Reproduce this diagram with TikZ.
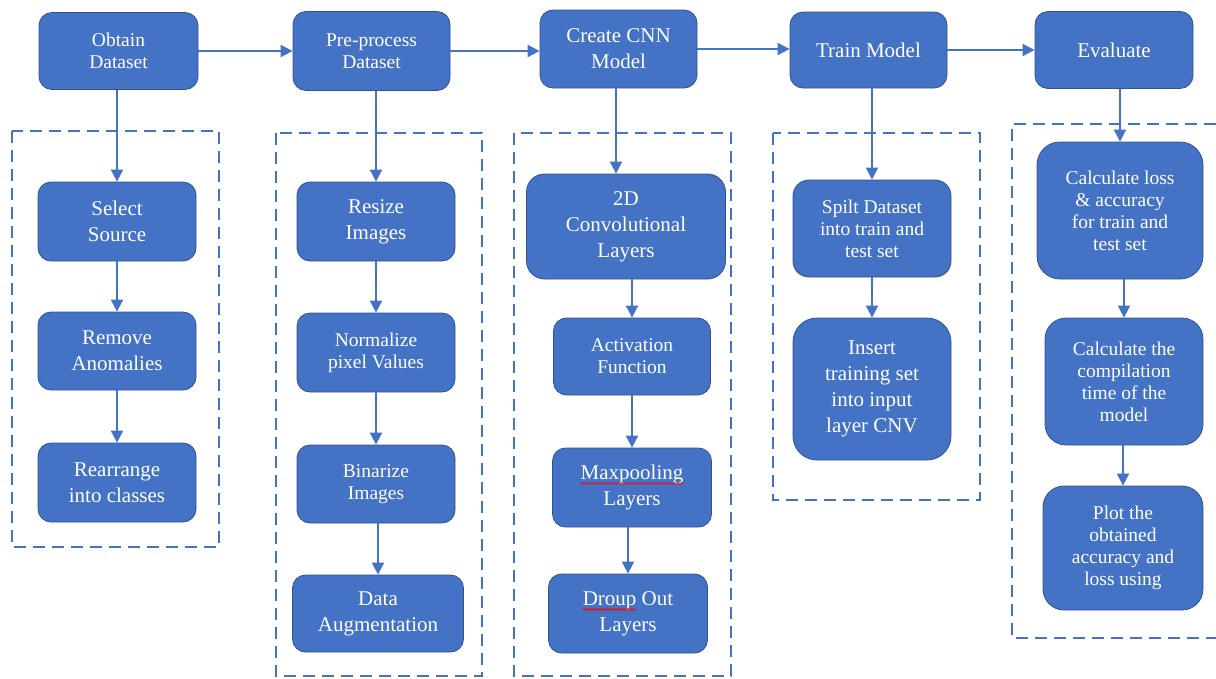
\documentclass[tikz,border=0pt]{standalone}
\usepackage{xcolor}
\usepackage{fontspec}
\setmainfont{Liberation Serif}
\newfontfamily\boxfont{Liberation Serif}
\usepackage{tikz}
\usetikzlibrary{arrows.meta, calc, decorations.pathmorphing}
\definecolor{boxblue}{HTML}{4472C4}
\definecolor{boxedge}{HTML}{2F528F}
\definecolor{lineblue}{HTML}{4472C4}
\newlength{\maxpoolw}
\newlength{\droupw}
\newlength{\droupline}

\tikzset{
	stepbox/.style={draw=boxedge, fill=boxblue, text=white, line width=0.8pt, rounded corners=13pt, align=center, inner sep=2pt, font=\boxfont\fontsize{19.5}{22}\selectfont},
	bigtext/.style={font=\boxfont\fontsize{21}{26}\selectfont},
	flow/.style={draw=lineblue, line width=1.8pt, -{Triangle[length=12pt,width=12pt]}},
	group/.style={draw=lineblue, line width=1.5pt, dash pattern=on 12pt off 7pt},
	spellwave/.style={draw=red, line width=0.8pt, decorate, decoration={snake, segment length=4pt, amplitude=1pt}},
}

\begin{document}
\settowidth{\maxpoolw}{\boxfont\fontsize{21}{26}\selectfont Maxpooling}%
\settowidth{\droupw}{\boxfont\fontsize{21}{26}\selectfont Droup}%
\settowidth{\droupline}{\boxfont\fontsize{21}{26}\selectfont Droup Out}%
\begin{tikzpicture}[x=1pt, y=-1pt]
	\useasboundingbox (0,0) rectangle (1216,678);
	%% dashed groups
	\draw[group] (12,131) rectangle (219,547);
	\draw[group] (276,133) rectangle (482,676);
	\draw[group] (514,133) rectangle (731,676);
	\draw[group] (773,133) rectangle (980,500);
	\draw[group] (1216,124) -- (1012,124) -- (1012,638) -- (1216,638);

	%% top row
	\node[stepbox, minimum width=159, minimum height=77] (obtain) at (118.5,51) {Obtain\\Dataset};
	\node[stepbox, minimum width=157, minimum height=79] (preproc) at (371.5,51) {Pre-process\\Dataset};
	\node[stepbox, bigtext, minimum width=157, minimum height=78] (create) at (618.5,49) {Create CNN\\Model};
	\node[stepbox, bigtext, minimum width=157, minimum height=76] (train) at (868.5,50) {Train Model};
	\node[stepbox, bigtext, minimum width=158, minimum height=77] (evaluate) at (1114,50) {Evaluate};

	%% obtain dataset
	\node[stepbox, bigtext, minimum width=158, minimum height=79] (select) at (117,221.5) {Select\\Source};
	\node[stepbox, bigtext, minimum width=158, minimum height=78] (anomaly) at (117,351) {Remove\\Anomalies};
	\node[stepbox, bigtext, minimum width=158, minimum height=79] (rearrange) at (117,482.5) {Rearrange\\into classes};

	%% pre-process
	\node[stepbox, bigtext, minimum width=158, minimum height=79] (resize) at (376,221.5) {Resize\\Images};
	\node[stepbox, minimum width=158, minimum height=79] (normalize) at (376,352.5) {Normalize\\pixel Values};
	\node[stepbox, minimum width=158, minimum height=78] (binarize) at (376,484) {Binarize\\Images};
	\node[stepbox, bigtext, minimum width=171, minimum height=77] (augment) at (378,613.5) {Data\\Augmentation};

	%% cnn model
	\node[stepbox, bigtext, rounded corners=18pt, minimum width=199, minimum height=105] (conv) at (626,226.5) {2D\\Convolutional\\Layers};
	\node[stepbox, minimum width=157, minimum height=77] (activation) at (632,356.5) {Activation\\Function};
	\node[stepbox, bigtext, minimum width=159, minimum height=79] (maxpool) at (632,487.5) {Maxpooling\\Layers};
	\node[stepbox, bigtext, minimum width=159, minimum height=79] (dropout) at (628,613.5) {Droup Out\\Layers};

	%% training
	\node[stepbox, rounded corners=16pt, minimum width=158, minimum height=97] (split) at (872,228.5) {Spilt Dataset\\into train and\\test set};
	\node[stepbox, bigtext, rounded corners=24pt, minimum width=158, minimum height=142] (insert) at (872,389) {Insert\\training set\\into input\\layer CNV};

	%% evaluation
	\node[stepbox, rounded corners=23pt, minimum width=166, minimum height=137] (calcloss) at (1120,210.5) {Calculate loss\\\& accuracy\\for train and\\test set};
	\node[stepbox, rounded corners=21pt, minimum width=158, minimum height=127] (calctime) at (1124,381.5) {Calculate the\\compilation\\time of the\\model};
	\node[stepbox, rounded corners=21pt, minimum width=160, minimum height=124] (plot) at (1123,548) {Plot the\\obtained\\accuracy and\\loss using};

	%% spell-check marks
	\draw[spellwave] ($(maxpool.center)+(-0.5\maxpoolw,4pt)$) -- ++(\maxpoolw,0pt);
	\draw[spellwave] ($(dropout.center)+(-0.5\droupline,4pt)$) -- ++(\droupw,0pt);

	%% main flow
	\draw[flow] (obtain.east) -- (obtain.east -| preproc.west);
	\draw[flow] (preproc.east) -- (preproc.east -| create.west);
	\draw[flow] (create.east) -- (create.east -| train.west);
	\draw[flow] (train.east) -- (train.east -| evaluate.west);

	%% down the columns
	\draw[flow] (select.north |- obtain.south) -- (select.north);
	\draw[flow] (anomaly.north |- select.south) -- (anomaly.north);
	\draw[flow] (rearrange.north |- anomaly.south) -- (rearrange.north);

	\draw[flow] (resize.north |- preproc.south) -- (resize.north);
	\draw[flow] (normalize.north |- resize.south) -- (normalize.north);
	\draw[flow] (binarize.north |- normalize.south) -- (binarize.north);
	\draw[flow] (augment.north |- binarize.south) -- (augment.north);

	\draw[flow] ($(conv.north |- create.south)+(-10,0)$) -- ($(conv.north)+(-10,0)$);
	\draw[flow] (activation.north |- conv.south) -- (activation.north);
	\draw[flow] (maxpool.north |- activation.south) -- (maxpool.north);
	\draw[flow] (dropout.north |- maxpool.south) -- (dropout.north);

	\draw[flow] (split.north |- train.south) -- (split.north);
	\draw[flow] (insert.north |- split.south) -- (insert.north);

	\draw[flow] (calcloss.north |- evaluate.south) -- (calcloss.north);
	\draw[flow] (calctime.north |- calcloss.south) -- (calctime.north);
	\draw[flow] (plot.north |- calctime.south) -- (plot.north);
\end{tikzpicture}
\end{document}
